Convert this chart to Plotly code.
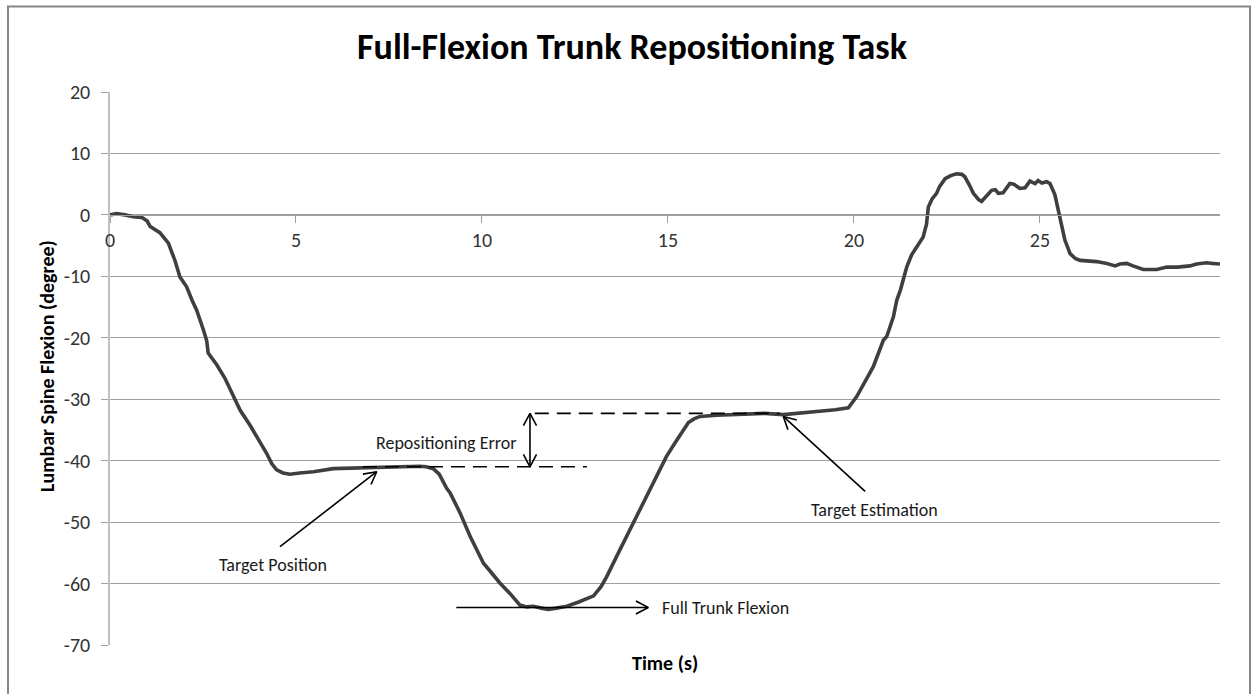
import math
import plotly.graph_objects as go

# ---------------- data ----------------
time_s = [0, 0.18, 0.4, 0.63, 0.85, 1.0, 1.08, 1.34, 1.57, 1.75, 1.88, 2.06, 2.2, 2.33, 2.51, 2.6, 2.64,
          2.87, 3.09, 3.3, 3.5, 3.76, 4.0, 4.21, 4.35, 4.48, 4.65, 4.84, 5.1, 5.47, 6.0, 6.5, 6.9, 7.5,
          8.0, 8.33, 8.5, 8.69, 8.85, 9.05, 9.14, 9.41, 9.68, 9.85, 10.04, 10.25, 10.48, 10.75, 11.02,
          11.2, 11.38, 11.6, 11.78, 12.0, 12.28, 12.6, 13.0, 13.2, 13.35, 13.7, 14.07, 14.3, 14.52,
          14.75, 14.96, 15.2, 15.41, 15.55, 15.7, 15.86, 16.31, 16.76, 17.2, 17.6, 18.1, 18.55, 19.0,
          19.5, 19.85, 20.07, 20.3, 20.52, 20.79, 20.88, 21.06, 21.15, 21.25, 21.42, 21.55, 21.68,
          21.86, 21.95, 22.0, 22.1, 22.22, 22.3, 22.45, 22.6, 22.76, 22.9, 22.98, 23.1, 23.21, 23.35,
          23.43, 23.55, 23.7, 23.8, 23.88, 24.01, 24.1, 24.19, 24.3, 24.46, 24.6, 24.73, 24.8, 24.87,
          24.95, 25.05, 25.18, 25.27, 25.4, 25.54, 25.67, 25.81, 25.95, 26.08, 26.52, 26.8, 27.02,
          27.15, 27.33, 27.5, 27.78, 28.14, 28.41, 28.7, 29.03, 29.21, 29.48, 29.65, 29.84]
flexion_deg = [0.0, 0.2, 0.0, -0.3, -0.4, -1.0, -1.9, -2.9, -4.6, -7.5, -10.1, -11.7, -13.8, -15.5, -18.7,
               -20.5, -22.5, -24.4, -26.6, -29.4, -31.8, -34.2, -36.6, -38.8, -40.5, -41.5, -42.0, -42.2,
               -42.0, -41.8, -41.3, -41.2, -41.1, -41.0, -41.0, -40.9, -41.0, -41.3, -42.2, -44.5, -45.2,
               -48.5, -52.3, -54.5, -56.7, -58.2, -59.9, -61.6, -63.5, -63.8, -63.7, -64.0, -64.2, -64.0,
               -63.7, -63.0, -62.0, -60.5, -58.9, -54.6, -50.2, -47.3, -44.8, -41.8, -39.3, -37.0, -35.0,
               -33.8, -33.2, -32.8, -32.6, -32.5, -32.5, -32.3, -32.5, -32.3, -32.0, -31.7, -31.4, -29.6,
               -27.0, -24.7, -20.4, -19.8, -16.6, -13.9, -12.2, -8.45, -6.5, -5.2, -3.6, -1.5, 1.3, 2.6,
               3.5, 4.6, 5.9, 6.4, 6.7, 6.6, 6.2, 4.9, 3.5, 2.5, 2.2, 3.0, 4.0, 4.1, 3.5, 3.6, 4.3, 5.1,
               5.0, 4.3, 4.4, 5.5, 5.3, 5.1, 5.6, 5.2, 5.4, 5.1, 3.3, -0.3, -4.1, -6.3, -7.1, -7.4, -7.6,
               -7.9, -8.3, -8.0, -7.9, -8.3, -8.9, -8.9, -8.5, -8.5, -8.3, -8.0, -7.8, -7.9, -8.0]

x_ticks = [0, 5, 10, 15, 20, 25]
x_tick_labels = ["0", "5", "10", "15", "20", "25"]
y_ticks = [20, 10, 0, -10, -20, -30, -40, -50, -60, -70]
y_tick_labels = ["20", "10", "0", "-10", "-20", "-30", "-40", "-50", "-60", "-70"]
x_range = [0, 29.84]
y_range = [-70, 20]

# annotation geometry (data units)
target_level = -41.0
target_dash_x = [6.8, 12.82]
estimate_level = -32.3
estimate_dash_x = [11.42, 18.0]
error_arrow_x = 11.29

arrow_tails = {"Target Position": (4.57, -54.0), "Target Estimation": (20.3, -45.0),
               "Full Trunk Flexion": (9.31, -63.9)}
arrow_heads = {"Target Position": (7.17, -41.8), "Target Estimation": (18.1, -32.8),
               "Full Trunk Flexion": (14.47, -63.9)}
label_pos = {"Target Position": (4.39, -57.0), "Target Estimation": (20.55, -48.0),
             "Full Trunk Flexion": (14.78, -64.0), "Repositioning Error": (9.03, -37.1)}

# ---------------- figure ----------------
W, H = 1252, 694
# desired on-page plot box (page body margin removed by post_script)
PL, PR, PT, PB = 110, 1220, 91.7, 645.3
ML = PL
MT = PT
PW = PR - PL
PH = PB - PT
MR = W - ML - PW
MB = H - MT - PH
SX = PW / (x_range[1] - x_range[0])
SY = PH / (y_range[1] - y_range[0])


def px_x(p):  # page x -> paper fraction
    return (p - PL) / PW


def px_y(p):  # page y -> paper fraction
    return (PB - p) / PH


FONT = "Carlito, Calibri, Lato, sans-serif"

fig = go.Figure()

fig.add_trace(go.Scatter(x=time_s, y=flexion_deg, mode="lines",
                         line=dict(color="#3f3f3f", width=3.6), hoverinfo="skip", showlegend=False))

dash_style = dict(color="black", width=1.6, dash="14px,8px")
fig.add_trace(go.Scatter(x=target_dash_x, y=[target_level] * 2, mode="lines", line=dash_style,
                         hoverinfo="skip", showlegend=False))
fig.add_trace(go.Scatter(x=estimate_dash_x, y=[estimate_level] * 2, mode="lines", line=dash_style,
                         hoverinfo="skip", showlegend=False))


def chevron(tip, tail, L=14, ang=28):
    dx = (tail[0] - tip[0]) * SX
    dy = (tail[1] - tip[1]) * SY
    n = math.hypot(dx, dy)
    ux, uy = dx / n, dy / n
    pts = []
    for s in (1, -1):
        a = math.radians(ang) * s
        rx = ux * math.cos(a) - uy * math.sin(a)
        ry = ux * math.sin(a) + uy * math.cos(a)
        pts.append((tip[0] + L * rx / SX, tip[1] + L * ry / SY))
    return [pts[0][0], tip[0], pts[1][0], None], [pts[0][1], tip[1], pts[1][1], None]


ax, ay = [], []
for k in arrow_tails:
    t, h = arrow_tails[k], arrow_heads[k]
    ax += [t[0], h[0], None]
    ay += [t[1], h[1], None]
    cx, cy = chevron(h, t)
    ax += cx
    ay += cy
top = (error_arrow_x, estimate_level)
bot = (error_arrow_x, target_level)
ax += [top[0], bot[0], None]
ay += [top[1], bot[1], None]
for tip, tail in ((top, bot), (bot, top)):
    cx, cy = chevron(tip, tail)
    ax += cx
    ay += cy
fig.add_trace(go.Scatter(x=ax, y=ay, mode="lines", line=dict(color="black", width=1.6),
                         hoverinfo="skip", showlegend=False))

for name, (lx, ly) in label_pos.items():
    anchor = "left" if name == "Full Trunk Flexion" else "center"
    fig.add_annotation(x=lx, y=ly, text=name, showarrow=False, xanchor=anchor, yanchor="middle",
                       font=dict(family=FONT, size=18, color="#1a1a1a"))

# axis titles
fig.add_annotation(xref="paper", yref="paper", x=px_x(47), y=px_y(366),
                   text="<b>Lumbar Spine Flexion (degree)</b>", textangle=-90, showarrow=False,
                   xanchor="center", yanchor="middle",
                   font=dict(family=FONT, size=20, color="black"))
fig.add_annotation(xref="paper", yref="paper", x=px_x(665), y=px_y(663),
                   text="<b>Time (s)</b>", showarrow=False, xanchor="center", yanchor="middle",
                   font=dict(family=FONT, size=20, color="black"))

# outer chart border
fig.add_shape(type="rect", xref="paper", yref="paper",
              x0=px_x(8), x1=px_x(1250), y0=px_y(730), y1=px_y(6),
              line=dict(color="#868686", width=2), layer="below")

fig.update_layout(
    width=W, height=H,
    margin=dict(l=ML, r=MR, t=MT, b=MB, autoexpand=False),
    paper_bgcolor="white", plot_bgcolor="white",
    title=dict(text="<b>Full-Flexion Trunk Repositioning Task</b>", xref="container",
               x=632 / W, xanchor="center", y=1 - 46 / H, yanchor="middle",
               font=dict(family=FONT, size=36, color="black")),
    xaxis=dict(range=x_range, tickvals=x_ticks, ticktext=x_tick_labels, showgrid=False, zeroline=False,
               anchor="free", position=(0 - y_range[0]) / (y_range[1] - y_range[0]),
               showline=True, linecolor="#a0a0a0", linewidth=1,
               ticks="outside", ticklen=7, tickcolor="#a0a0a0", ticklabelstandoff=0,
               tickfont=dict(family=FONT, size=20, color="#333333")),
    yaxis=dict(range=y_range, tickvals=y_ticks, ticktext=y_tick_labels, showgrid=True,
               gridcolor="#a0a0a0", gridwidth=1,
               zeroline=False, showline=True, linecolor="#c0c0c0", linewidth=1.5,
               ticks="outside", ticklen=7, tickcolor="#a0a0a0", ticklabelstandoff=7,
               tickfont=dict(family=FONT, size=20, color="#333333")),
)

fig.write_html("out.html", config={"displayModeBar": False},
               post_script="document.body.style.margin='0px';")
